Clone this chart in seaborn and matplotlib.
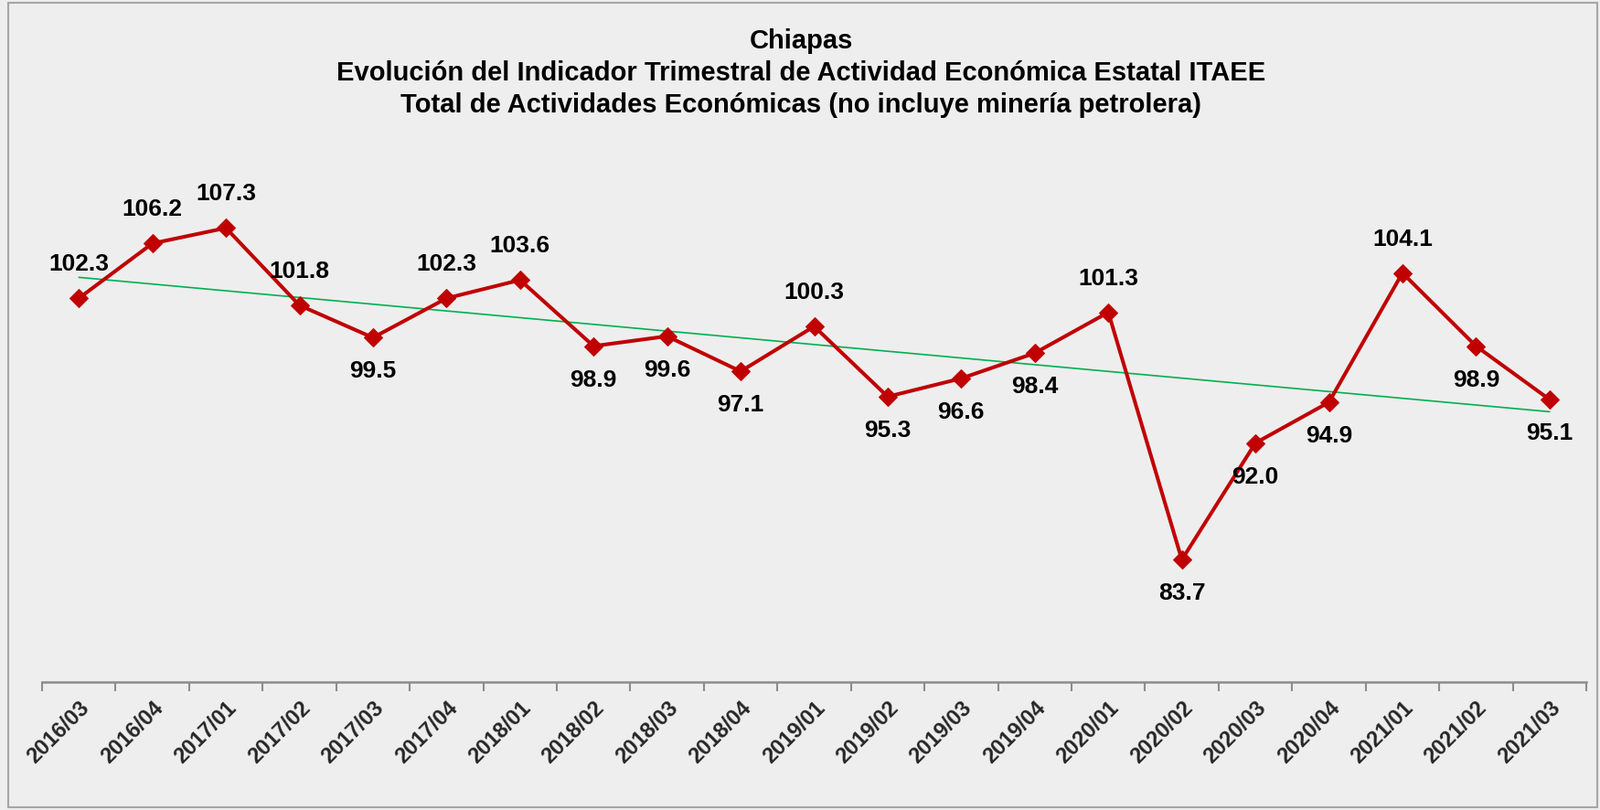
import numpy as np
import pandas as pd
import seaborn as sns
import matplotlib.pyplot as plt
from matplotlib.patches import Rectangle

# Datos ITAEE Chiapas (trimestral)
periodos = ['2016/03', '2016/04', '2017/01', '2017/02', '2017/03', '2017/04',
            '2018/01', '2018/02', '2018/03', '2018/04', '2019/01', '2019/02',
            '2019/03', '2019/04', '2020/01', '2020/02', '2020/03', '2020/04',
            '2021/01', '2021/02', '2021/03']
valores = [102.3, 106.2, 107.3, 101.8, 99.5, 102.3, 103.6, 98.9, 99.6, 97.1,
           100.3, 95.3, 96.6, 98.4, 101.3, 83.7, 92.0, 94.9, 104.1, 98.9, 95.1]
# posicion de la etiqueta: 1 arriba, -1 abajo
lado_etiqueta = [1, 1, 1, 1, -1, 1, 1, -1, -1, -1, 1, -1, -1, -1, 1, -1, -1, -1, 1, -1, -1]

titulo = ['Chiapas',
          'Evolución del Indicador Trimestral de Actividad Económica Estatal ITAEE',
          'Total de Actividades Económicas (no incluye minería petrolera)']

df = pd.DataFrame({'periodo': periodos, 'valor': valores})
df['x'] = np.arange(len(df))

sns.set_theme(style='white')
plt.rcParams['font.family'] = ['Liberation Sans', 'DejaVu Sans']

fondo = '#EEEEEE'
fig = plt.figure(figsize=(17.5, 8.86), dpi=100, facecolor=fondo)
ax = fig.add_axes([46 / 1750, 1 - 746 / 886, (1735 - 46) / 1750, (746 - 131) / 886])
ax.set_facecolor('none')

# linea de tendencia (regresion lineal)
sns.regplot(data=df, x='x', y='valor', ax=ax, scatter=False, ci=None, truncate=True,
            line_kws={'color': '#00B050', 'linewidth': 1.2, 'zorder': 2})

# serie principal
sns.lineplot(data=df, x='x', y='valor', ax=ax, color='#C00000', linewidth=2.9,
             marker='D', markersize=10, markeredgecolor='#C00000', zorder=3)

for xi, yi, lado in zip(df['x'], df['valor'], lado_etiqueta):
    ax.annotate(f'{yi:.1f}', (xi, yi), xytext=(0, 37 * lado), textcoords='offset pixels',
                ha='center', va='center', fontsize=19, fontweight='bold', color='black')

ax.set_xlim(-0.5, len(df) - 0.5)
ax.set_ylim(75, 115)
ax.set_xlabel('')
ax.set_ylabel('')
ax.set_yticks([])

ax.set_xticks(df['x'])
ax.set_xticklabels(df['periodo'], rotation=45, ha='right', rotation_mode='anchor',
                   fontsize=17, fontweight='bold')
ax.tick_params(axis='x', which='major', bottom=True, length=0, pad=12)
ax.set_xticks(np.arange(-0.5, len(df), 1), minor=True)
ax.tick_params(axis='x', which='minor', bottom=True, length=7, width=1.5,
               color='#8C8C8C', direction='out')

for s in ['left', 'right', 'top']:
    ax.spines[s].set_visible(False)
ax.spines['bottom'].set_color('#8C8C8C')
ax.spines['bottom'].set_linewidth(1.8)

ys = [45, 80, 115]
for t, y in zip(titulo, ys):
    fig.text(876 / 1750, 1 - y / 886, t, ha='center', va='center',
             fontsize=21, fontweight='bold', color='black')

# marco exterior
fig.patches.append(Rectangle((9 / 1750, 3 / 886), 1738 / 1750, 880 / 886,
                             transform=fig.transFigure, fill=False,
                             edgecolor='#A6A6A6', linewidth=1.5))

fig.savefig('out.png', dpi=100, facecolor=fondo)
